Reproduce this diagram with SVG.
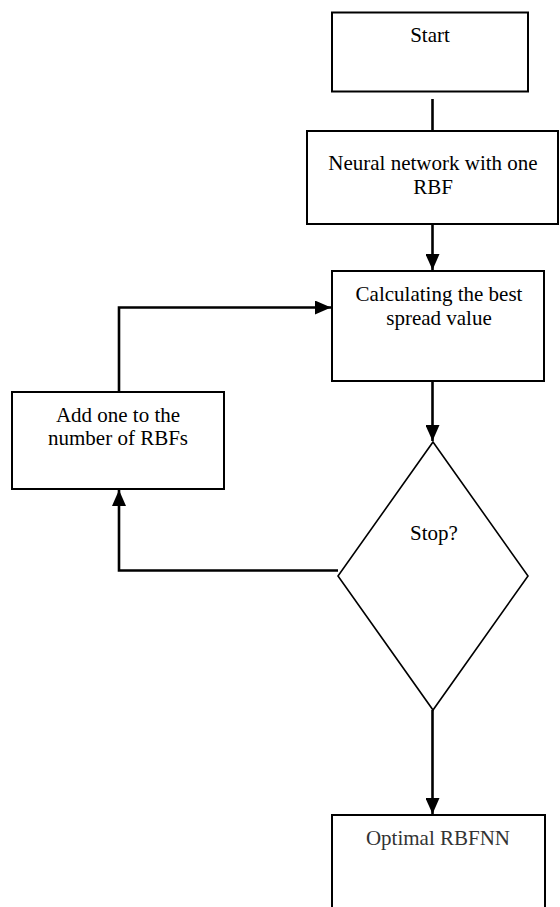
<svg xmlns="http://www.w3.org/2000/svg" width="560" height="907" viewBox="0 0 560 907">
<style>
.box{fill:#fff;stroke:#000;stroke-width:2}
.dia{fill:#fff;stroke:#000;stroke-width:1.6}
.lbl{font-family:"Liberation Serif","Times New Roman",serif;font-size:21px;fill:#000;text-anchor:middle}
.con{fill:none;stroke:#000;stroke-width:2.6}
</style>
<defs>
<marker id="ah" viewBox="0 0 16 14" refX="16" refY="7" markerWidth="16" markerHeight="14" markerUnits="userSpaceOnUse" orient="auto">
<path d="M0,0 L16,7 L0,14 Z" fill="#000"/>
</marker>
</defs>
<rect width="560" height="907" fill="#fff"/>
<g id="connectors">
<line class="con" x1="432.5" y1="99" x2="432.5" y2="131"/>
<line class="con" x1="432.5" y1="224" x2="432.5" y2="270" marker-end="url(#ah)"/>
<line class="con" x1="432.5" y1="381" x2="432.5" y2="441" marker-end="url(#ah)"/>
<polyline class="con" points="119,392 119,307.5 331,307.5" marker-end="url(#ah)"/>
<polyline class="con" points="338,570.5 119,570.5 119,490" marker-end="url(#ah)"/>
<line class="con" x1="432.5" y1="710" x2="432.5" y2="814" marker-end="url(#ah)"/>
</g>
<g id="start">
<rect class="box" x="332" y="12.5" width="196" height="79"/>
<text class="lbl" x="430" y="42">Start</text>
</g>
<g id="neural">
<rect class="box" x="307" y="131" width="251" height="93"/>
<text class="lbl" x="433" y="170">Neural network with one</text>
<text class="lbl" x="433" y="194">RBF</text>
</g>
<g id="calc">
<rect class="box" x="332" y="271" width="212" height="110"/>
<text class="lbl" x="439" y="301">Calculating the best</text>
<text class="lbl" x="439" y="325">spread value</text>
</g>
<g id="add">
<rect class="box" x="12" y="392" width="212" height="97"/>
<text class="lbl" x="118" y="422">Add one to the</text>
<text class="lbl" x="118" y="445">number of RBFs</text>
</g>
<g id="stop">
<polygon class="dia" points="433,442 528,576 433,710 338,576"/>
<text class="lbl" x="434" y="540">Stop?</text>
</g>
<g id="optimal">
<rect class="box" x="332" y="815" width="213" height="110"/>
<text class="lbl" x="438" y="845" style="fill:#333">Optimal RBFNN</text>
</g>
</svg>
